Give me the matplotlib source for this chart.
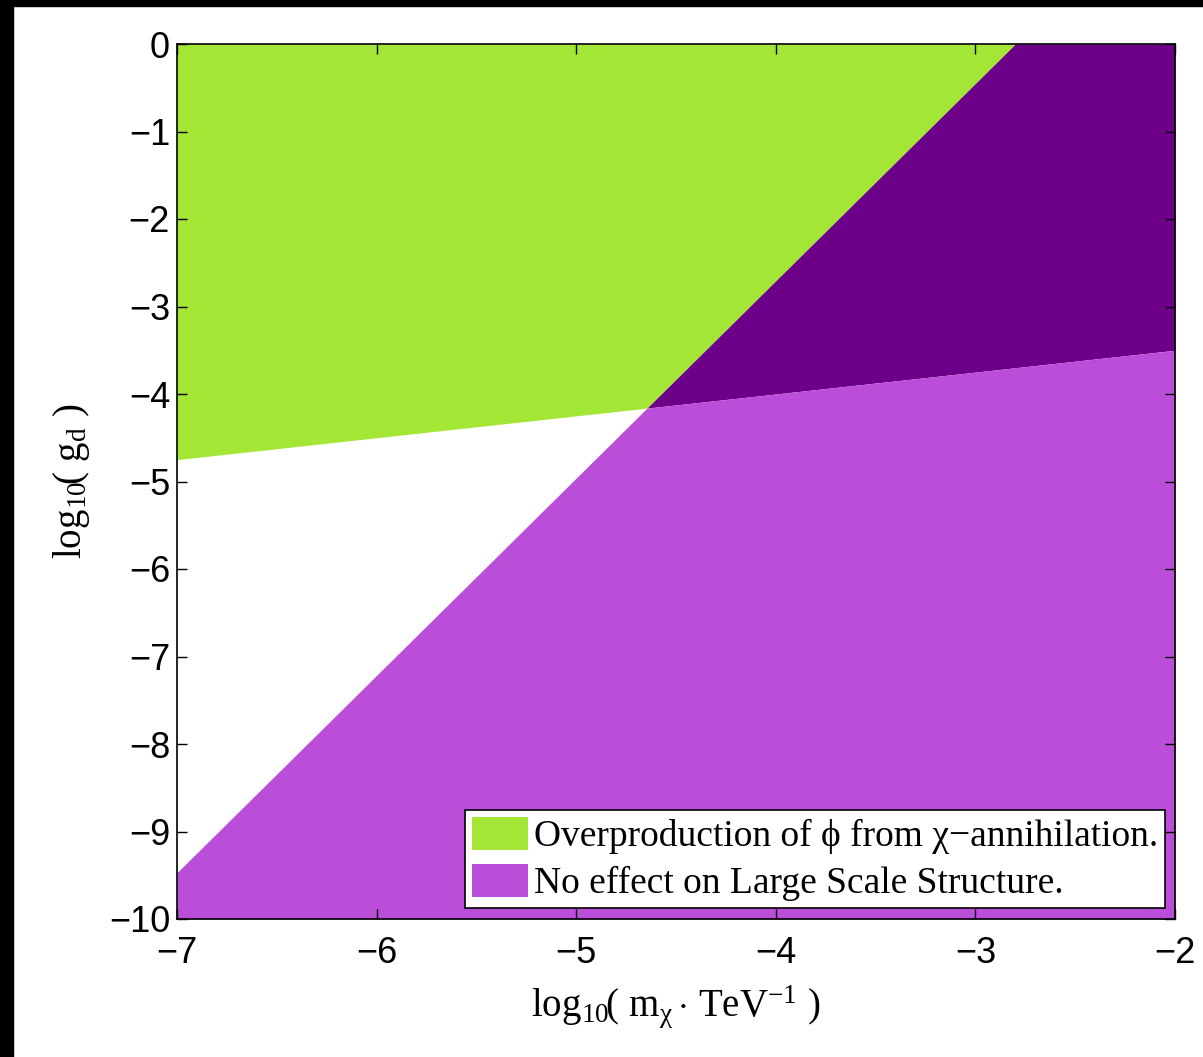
import numpy as np
import matplotlib
matplotlib.use("Agg")
import matplotlib.pyplot as plt
from matplotlib.patches import Patch, Rectangle

# boundary lines (x = log10 m, y = log10 g)
x_lim = [-7, -2]
y_lim = [-10, 0]
lss_x = [-7, -2]
lss_y = [-4.75, -3.5]        # above: overproduction boundary
diag_x = [-7, -2.8]
diag_y = [-9.47, 0.0]        # below: no LSS effect

x_ticks = [-7, -6, -5, -4, -3, -2]
y_ticks = [0, -1, -2, -3, -4, -5, -6, -7, -8, -9, -10]

col_green = "#a4e636"
col_purple = "#ba4ed9"
col_dark = "#6c0088"

plt.rcParams['mathtext.fontset'] = 'custom'
plt.rcParams['mathtext.rm'] = 'Liberation Serif'
plt.rcParams['mathtext.it'] = 'Liberation Serif'
plt.rcParams['mathtext.sf'] = 'Liberation Serif'

fig = plt.figure(figsize=(12.03, 10.57), dpi=100)
ax = fig.add_axes([177/1203, 1-919/1057, 998/1203, 875/1057])

xs = np.linspace(x_lim[0], x_lim[1], 2001)
a = np.polyfit(lss_x, lss_y, 1)
b = np.polyfit(diag_x, diag_y, 1)
l1 = np.polyval(a, xs)
l2 = np.clip(np.polyval(b, xs), y_lim[0], y_lim[1])

# green: above both lines
ax.fill_between(xs, np.maximum(l1, l2), y_lim[1], color=col_green, lw=0)
# dark purple: above lss, below diag
ax.fill_between(xs, l1, l2, where=l2 > l1, color=col_dark, lw=0, interpolate=True)
# light purple: below both
ax.fill_between(xs, y_lim[0], np.minimum(l1, l2), color=col_purple, lw=0)

ax.set_xlim(x_lim)
ax.set_ylim(y_lim)
ax.set_xticks(x_ticks)
ax.set_yticks(y_ticks)
ax.tick_params(direction='in', length=7, width=1, top=True, right=True,
               labelsize=26)
ax.tick_params(axis='x', pad=12)
ax.tick_params(axis='y', pad=5)
for lab in ax.get_xticklabels() + ax.get_yticklabels():
    lab.set_family('Liberation Sans')
for s in ax.spines.values():
    s.set_linewidth(1.2)
ax.set_axisbelow(False)

ax.set_xlabel(r"$\mathrm{log}_{10\!}\mathrm{(\ m}_{\mathrm{χ}}\,\mathrm{\cdot\ TeV}^{-1}\mathrm{\ )}$",
              fontsize=28, labelpad=9)
ax.set_ylabel(r"$\mathrm{log}_{10\!}\mathrm{(\ g}_{\mathrm{d}}\mathrm{\ )}$",
              fontsize=28, labelpad=12)

handles = [Patch(facecolor=col_green, edgecolor='none'),
           Patch(facecolor=col_purple, edgecolor='none')]
labels = ["Overproduction of ϕ from χ−annihilation.",
          "No effect on Large Scale Structure."]
leg = ax.legend(handles, labels, loc='lower right',
                bbox_to_anchor=(1-10/998, 11/875), borderaxespad=0,
                fancybox=False, framealpha=1, edgecolor='black',
                prop={'family': ['Liberation Serif', 'DejaVu Serif'], 'size': 27},
                handlelength=1.5, handleheight=1.0, handletextpad=0.15,
                labelspacing=0.25, borderpad=0.18)
leg.get_frame().set_linewidth(1.2)

# black strips along top and left edges
fig.patches.append(Rectangle((0, 1-6/1057), 1, 6/1057, transform=fig.transFigure,
                             color='black', zorder=10))
fig.patches.append(Rectangle((0, 0), 13/1203, 1, transform=fig.transFigure,
                             color='black', zorder=10))

fig.savefig("out.png", dpi=100)
